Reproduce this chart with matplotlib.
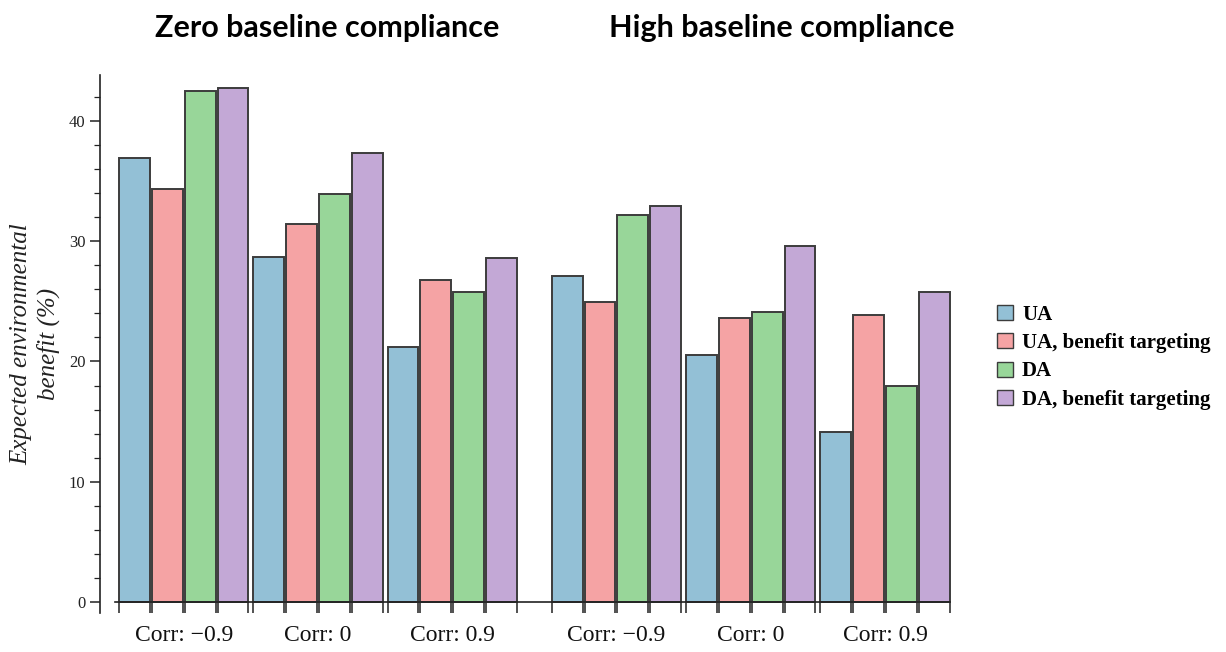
import numpy as np
import matplotlib.pyplot as plt
from matplotlib.patches import Patch

# categories
corr_labels = ['Corr: \u22120.9', 'Corr: 0', 'Corr: 0.9']
series = ['UA', 'UA, benefit targeting', 'DA', 'DA, benefit targeting']
colors = ['#93c0d6', '#f5a3a4', '#98d699', '#c3a8d6']

# expected environmental benefit (%), one row per corr value
zero_baseline = [[36.9, 34.3, 42.5, 42.7],
                 [28.7, 31.4, 33.9, 37.3],
                 [21.2, 26.8, 25.8, 28.6]]
high_baseline = [[27.1, 24.9, 32.2, 32.9],
                 [20.5, 23.6, 24.1, 29.6],
                 [14.1, 23.9, 18.0, 25.8]]

fig = plt.figure(figsize=(12.26, 6.52), dpi=100)
ax = fig.add_axes([100 / 1226, 39 / 652, 853 / 1226, 538 / 652])

bar_w = 0.94
group_step = 4.09
half_gap = 5.0
group_starts = []
for h in range(2):
    for g in range(3):
        group_starts.append(h * (2 * group_step + half_gap) + g * group_step)

data = zero_baseline + high_baseline
edges = []
for gi, start in enumerate(group_starts):
    for si in range(4):
        x0 = start + si
        ax.bar(x0, data[gi][si], width=bar_w, align='edge', color=colors[si],
               edgecolor='#3c3c3c', linewidth=1.4, zorder=2)
        edges += [x0, x0 + bar_w]

centers = [s + 2 - (1 - bar_w) / 2 for s in group_starts]

ax.set_xlim(-0.58, 25.4)
ax.set_ylim(-0.9, 43.8)

for s in ['top', 'right']:
    ax.spines[s].set_visible(False)
ax.spines['bottom'].set_position(('data', 0))
ax.spines['bottom'].set_bounds(-0.12, edges[-1])
for s in ['bottom', 'left']:
    ax.spines[s].set_linewidth(1.2)
    ax.spines[s].set_color('#222222')

ax.set_yticks([0, 10, 20, 30, 40])
ax.set_yticks(np.arange(0, 44, 2), minor=True)
ax.tick_params(axis='y', which='major', length=7, width=1.1, labelsize=12,
               direction='out', colors='#222222')
ax.tick_params(axis='y', which='minor', length=4, width=0.9, direction='out',
               colors='#222222')
for lab in ax.get_yticklabels():
    lab.set_fontfamily('Liberation Serif')

ax.set_xticks(edges, minor=True)
ax.set_xticks([])
ax.tick_params(axis='x', which='minor', length=8, width=1.1, direction='out',
               colors='#222222')
for c, lab in zip(centers, corr_labels * 2):
    ax.text(c, -2.75, lab, ha='center', va='center', fontsize=17,
            family='Liberation Serif', color='#111111')

ax.set_ylabel('Expected environmental\nbenefit (%)', fontsize=18,
              family='Liberation Serif', style='italic', labelpad=6,
              color='#222222', linespacing=1.25)

fig.text(327 / 1226, 1 - 28 / 652, 'Zero baseline compliance', ha='center',
         va='center', fontsize=22, fontweight='bold', family='Lato')
fig.text(782 / 1226, 1 - 28 / 652, 'High baseline compliance', ha='center',
         va='center', fontsize=22, fontweight='bold', family='Lato')

handles = [Patch(facecolor=c, edgecolor='#3c3c3c', linewidth=1.0) for c in colors]
fig.legend(handles, series, loc='center left', bbox_to_anchor=(0.798, 0.452),
           frameon=False, handlelength=0.75, handleheight=0.75, handletextpad=0.45,
           labelspacing=0.4,
           prop={'family': 'Liberation Serif', 'weight': 'bold', 'size': 15})

fig.savefig('out.png', dpi=100)
